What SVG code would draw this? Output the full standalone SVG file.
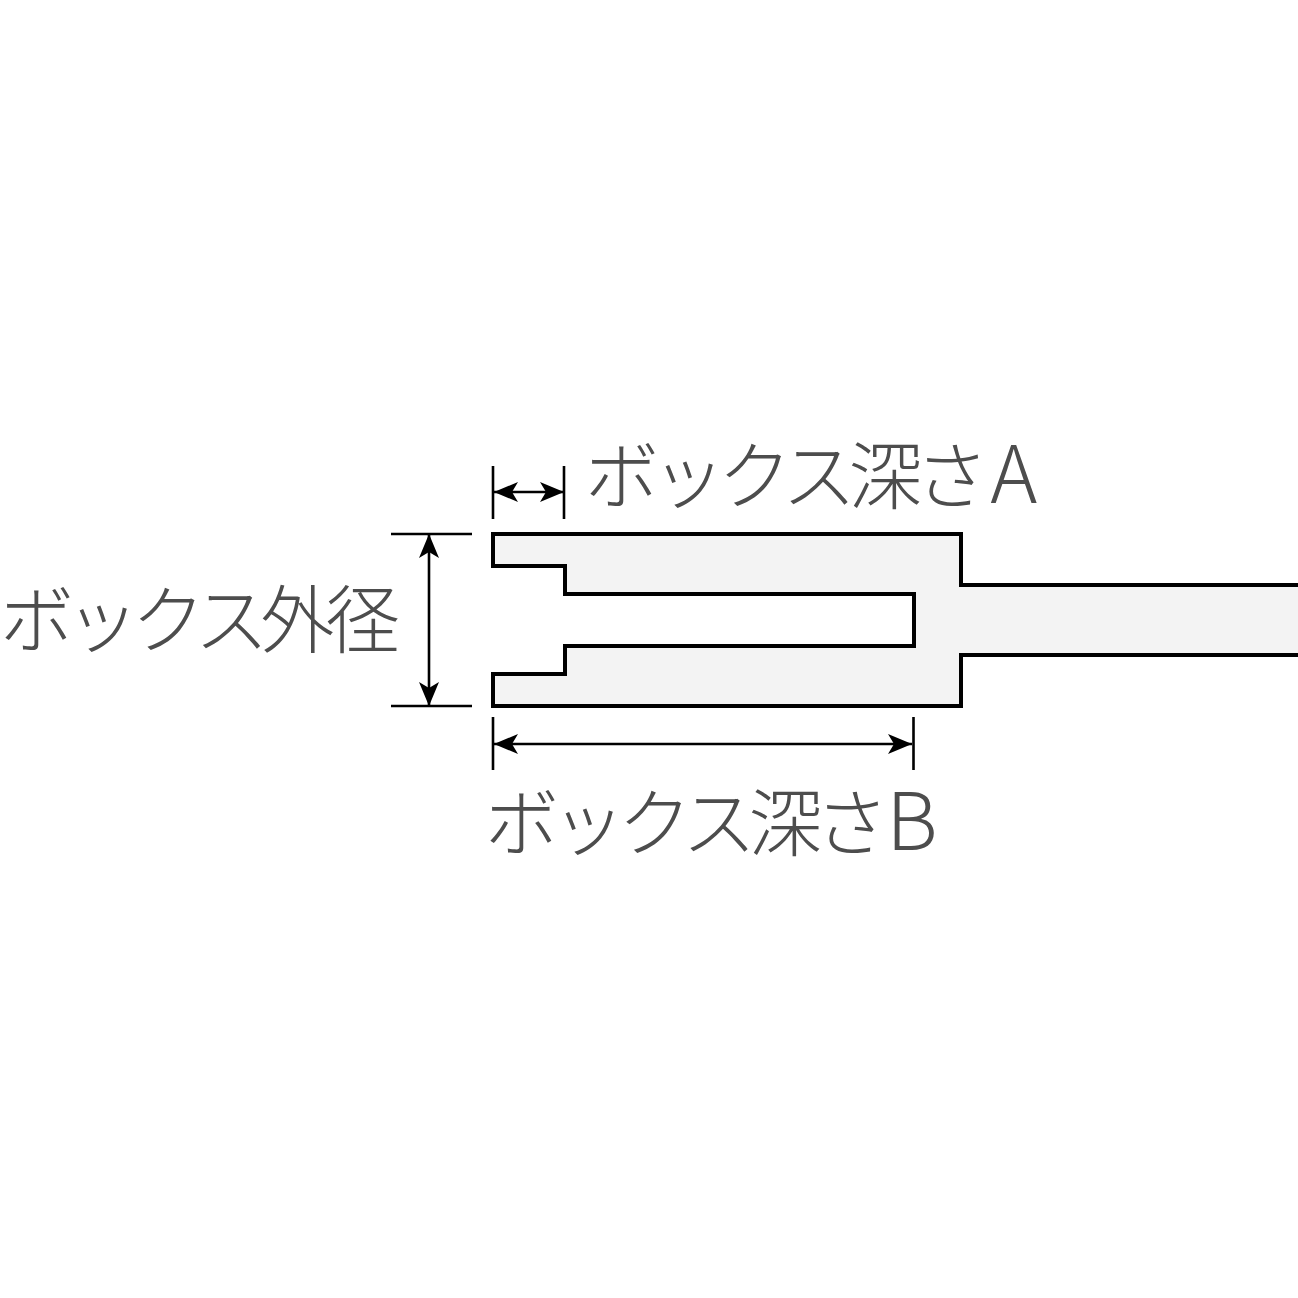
<svg xmlns="http://www.w3.org/2000/svg" width="1298" height="1298" viewBox="0 0 1298 1298">
<defs><style>
.t{font-family:"Noto Sans CJK JP","Liberation Sans",sans-serif;font-size:74px;font-weight:300;fill:#4d4d4d;letter-spacing:-7.6px}
.l{font-size:80px}
.d{stroke:#000;stroke-width:2.6;fill:none}
.a{fill:#000;stroke:none}
</style>
<marker id="ah" markerUnits="userSpaceOnUse" markerWidth="24" markerHeight="20" refX="24" refY="10" orient="auto-start-reverse"><path class="a" d="M0 0L24 10L0 20L6 10Z"/></marker>
</defs>
<rect width="1298" height="1298" fill="#fff"/>
<g id="body"><path d="M1298 585H961V534H493V566H565V594H914V646H565V674H493V706H961V655H1298" fill="#f3f3f3" stroke="#000" stroke-width="4"/></g>
<g id="connectors">
<path class="d" d="M493 466V519M564 466V519M391 534H472M391 706H472M493 717V770M913.5 717V770"/>
<path class="d" marker-start="url(#ah)" marker-end="url(#ah)" d="M494 492H564"/>
<path class="d" marker-start="url(#ah)" marker-end="url(#ah)" d="M429 534V706"/>
<path class="d" marker-start="url(#ah)" marker-end="url(#ah)" d="M494 744H912"/>
</g>
<g id="label-a"><text class="t" x="585" y="503">ボックス深さ<tspan class="l" dx="9">A</tspan></text></g>
<g id="label-d"><text class="t" x="0" y="647" style="letter-spacing:-8.4px">ボックス外径</text></g>
<g id="label-b"><text class="t" x="485" y="850">ボックス深さ<tspan class="l" dx="5">B</tspan></text></g>
</svg>
